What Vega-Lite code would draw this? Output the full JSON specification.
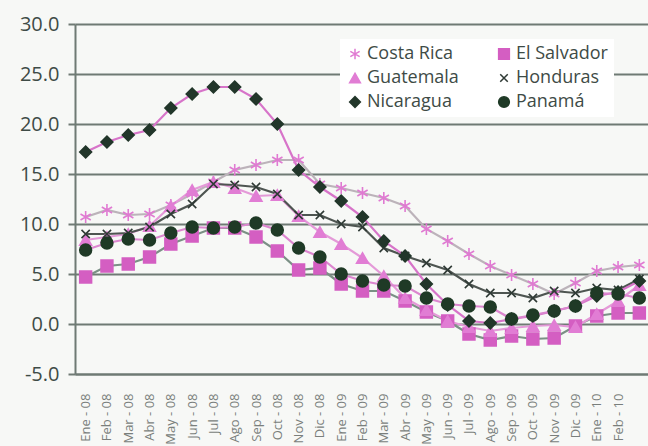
{
  "$schema": "https://vega.github.io/schema/vega-lite/v6.json",
  "width": 575,
  "height": 350,
  "autosize": "none",
  "padding": {"left": 75, "top": 24, "right": 0, "bottom": 72},
  "background": "#f7f8f6",
  "config": {
    "view": {"stroke": null},
    "font": "Open Sans"
  },
  "data": {
    "values": [
      {"mes": "Ene - 08", "pais": "Costa Rica", "v": 10.7},
      {"mes": "Feb - 08", "pais": "Costa Rica", "v": 11.4},
      {"mes": "Mar - 08", "pais": "Costa Rica", "v": 10.9},
      {"mes": "Abr - 08", "pais": "Costa Rica", "v": 11.0},
      {"mes": "May - 08", "pais": "Costa Rica", "v": 11.9},
      {"mes": "Jun - 08", "pais": "Costa Rica", "v": 13.0},
      {"mes": "Jul - 08", "pais": "Costa Rica", "v": 14.2},
      {"mes": "Ago - 08", "pais": "Costa Rica", "v": 15.4},
      {"mes": "Sep - 08", "pais": "Costa Rica", "v": 15.9},
      {"mes": "Oct - 08", "pais": "Costa Rica", "v": 16.4},
      {"mes": "Nov - 08", "pais": "Costa Rica", "v": 16.4},
      {"mes": "Dic - 08", "pais": "Costa Rica", "v": 14.0},
      {"mes": "Ene - 09", "pais": "Costa Rica", "v": 13.6},
      {"mes": "Feb - 09", "pais": "Costa Rica", "v": 13.1},
      {"mes": "Mar - 09", "pais": "Costa Rica", "v": 12.6},
      {"mes": "Abr - 09", "pais": "Costa Rica", "v": 11.8},
      {"mes": "May - 09", "pais": "Costa Rica", "v": 9.5},
      {"mes": "Jun - 09", "pais": "Costa Rica", "v": 8.3},
      {"mes": "Jul - 09", "pais": "Costa Rica", "v": 7.0},
      {"mes": "Ago - 09", "pais": "Costa Rica", "v": 5.8},
      {"mes": "Sep - 09", "pais": "Costa Rica", "v": 4.9},
      {"mes": "Oct - 09", "pais": "Costa Rica", "v": 4.0},
      {"mes": "Nov - 09", "pais": "Costa Rica", "v": 3.0},
      {"mes": "Dic - 09", "pais": "Costa Rica", "v": 4.1},
      {"mes": "Ene - 10", "pais": "Costa Rica", "v": 5.3},
      {"mes": "Feb - 10", "pais": "Costa Rica", "v": 5.7},
      {"mes": "Mar - 10", "pais": "Costa Rica", "v": 5.9},

      {"mes": "Ene - 08", "pais": "El Salvador", "v": 4.7},
      {"mes": "Feb - 08", "pais": "El Salvador", "v": 5.8},
      {"mes": "Mar - 08", "pais": "El Salvador", "v": 6.0},
      {"mes": "Abr - 08", "pais": "El Salvador", "v": 6.7},
      {"mes": "May - 08", "pais": "El Salvador", "v": 8.0},
      {"mes": "Jun - 08", "pais": "El Salvador", "v": 8.8},
      {"mes": "Jul - 08", "pais": "El Salvador", "v": 9.6},
      {"mes": "Ago - 08", "pais": "El Salvador", "v": 9.6},
      {"mes": "Sep - 08", "pais": "El Salvador", "v": 8.7},
      {"mes": "Oct - 08", "pais": "El Salvador", "v": 7.3},
      {"mes": "Nov - 08", "pais": "El Salvador", "v": 5.4},
      {"mes": "Dic - 08", "pais": "El Salvador", "v": 5.6},
      {"mes": "Ene - 09", "pais": "El Salvador", "v": 4.0},
      {"mes": "Feb - 09", "pais": "El Salvador", "v": 3.3},
      {"mes": "Mar - 09", "pais": "El Salvador", "v": 3.3},
      {"mes": "Abr - 09", "pais": "El Salvador", "v": 2.3},
      {"mes": "May - 09", "pais": "El Salvador", "v": 1.2},
      {"mes": "Jun - 09", "pais": "El Salvador", "v": 0.3},
      {"mes": "Jul - 09", "pais": "El Salvador", "v": -1.0},
      {"mes": "Ago - 09", "pais": "El Salvador", "v": -1.6},
      {"mes": "Sep - 09", "pais": "El Salvador", "v": -1.2},
      {"mes": "Oct - 09", "pais": "El Salvador", "v": -1.5},
      {"mes": "Nov - 09", "pais": "El Salvador", "v": -1.4},
      {"mes": "Dic - 09", "pais": "El Salvador", "v": -0.2},
      {"mes": "Ene - 10", "pais": "El Salvador", "v": 0.8},
      {"mes": "Feb - 10", "pais": "El Salvador", "v": 1.1},
      {"mes": "Mar - 10", "pais": "El Salvador", "v": 1.1},

      {"mes": "Ene - 08", "pais": "Guatemala", "v": 8.4},
      {"mes": "Feb - 08", "pais": "Guatemala", "v": 8.7},
      {"mes": "Mar - 08", "pais": "Guatemala", "v": 9.0},
      {"mes": "Abr - 08", "pais": "Guatemala", "v": 9.8},
      {"mes": "May - 08", "pais": "Guatemala", "v": 11.8},
      {"mes": "Jun - 08", "pais": "Guatemala", "v": 13.4},
      {"mes": "Jul - 08", "pais": "Guatemala", "v": 14.2},
      {"mes": "Ago - 08", "pais": "Guatemala", "v": 13.6},
      {"mes": "Sep - 08", "pais": "Guatemala", "v": 12.8},
      {"mes": "Oct - 08", "pais": "Guatemala", "v": 12.9},
      {"mes": "Nov - 08", "pais": "Guatemala", "v": 10.8},
      {"mes": "Dic - 08", "pais": "Guatemala", "v": 9.2},
      {"mes": "Ene - 09", "pais": "Guatemala", "v": 8.0},
      {"mes": "Feb - 09", "pais": "Guatemala", "v": 6.6},
      {"mes": "Mar - 09", "pais": "Guatemala", "v": 4.8},
      {"mes": "Abr - 09", "pais": "Guatemala", "v": 2.6},
      {"mes": "May - 09", "pais": "Guatemala", "v": 1.4},
      {"mes": "Jun - 09", "pais": "Guatemala", "v": 0.3},
      {"mes": "Jul - 09", "pais": "Guatemala", "v": -0.3},
      {"mes": "Ago - 09", "pais": "Guatemala", "v": -0.7},
      {"mes": "Sep - 09", "pais": "Guatemala", "v": -0.4},
      {"mes": "Oct - 09", "pais": "Guatemala", "v": -0.2},
      {"mes": "Nov - 09", "pais": "Guatemala", "v": -0.1},
      {"mes": "Dic - 09", "pais": "Guatemala", "v": -0.3},
      {"mes": "Ene - 10", "pais": "Guatemala", "v": 1.0},
      {"mes": "Feb - 10", "pais": "Guatemala", "v": 2.3},
      {"mes": "Mar - 10", "pais": "Guatemala", "v": 3.9},

      {"mes": "Ene - 08", "pais": "Honduras", "v": 9.0},
      {"mes": "Feb - 08", "pais": "Honduras", "v": 9.0},
      {"mes": "Mar - 08", "pais": "Honduras", "v": 9.1},
      {"mes": "Abr - 08", "pais": "Honduras", "v": 9.7},
      {"mes": "May - 08", "pais": "Honduras", "v": 11.0},
      {"mes": "Jun - 08", "pais": "Honduras", "v": 12.0},
      {"mes": "Jul - 08", "pais": "Honduras", "v": 14.0},
      {"mes": "Ago - 08", "pais": "Honduras", "v": 13.9},
      {"mes": "Sep - 08", "pais": "Honduras", "v": 13.7},
      {"mes": "Oct - 08", "pais": "Honduras", "v": 13.0},
      {"mes": "Nov - 08", "pais": "Honduras", "v": 10.9},
      {"mes": "Dic - 08", "pais": "Honduras", "v": 10.9},
      {"mes": "Ene - 09", "pais": "Honduras", "v": 10.0},
      {"mes": "Feb - 09", "pais": "Honduras", "v": 9.7},
      {"mes": "Mar - 09", "pais": "Honduras", "v": 7.6},
      {"mes": "Abr - 09", "pais": "Honduras", "v": 6.8},
      {"mes": "May - 09", "pais": "Honduras", "v": 6.1},
      {"mes": "Jun - 09", "pais": "Honduras", "v": 5.4},
      {"mes": "Jul - 09", "pais": "Honduras", "v": 4.0},
      {"mes": "Ago - 09", "pais": "Honduras", "v": 3.1},
      {"mes": "Sep - 09", "pais": "Honduras", "v": 3.1},
      {"mes": "Oct - 09", "pais": "Honduras", "v": 2.6},
      {"mes": "Nov - 09", "pais": "Honduras", "v": 3.3},
      {"mes": "Dic - 09", "pais": "Honduras", "v": 3.1},
      {"mes": "Ene - 10", "pais": "Honduras", "v": 3.6},
      {"mes": "Feb - 10", "pais": "Honduras", "v": 3.4},
      {"mes": "Mar - 10", "pais": "Honduras", "v": 4.5},

      {"mes": "Ene - 08", "pais": "Nicaragua", "v": 17.2},
      {"mes": "Feb - 08", "pais": "Nicaragua", "v": 18.2},
      {"mes": "Mar - 08", "pais": "Nicaragua", "v": 18.9},
      {"mes": "Abr - 08", "pais": "Nicaragua", "v": 19.4},
      {"mes": "May - 08", "pais": "Nicaragua", "v": 21.6},
      {"mes": "Jun - 08", "pais": "Nicaragua", "v": 23.0},
      {"mes": "Jul - 08", "pais": "Nicaragua", "v": 23.7},
      {"mes": "Ago - 08", "pais": "Nicaragua", "v": 23.7},
      {"mes": "Sep - 08", "pais": "Nicaragua", "v": 22.5},
      {"mes": "Oct - 08", "pais": "Nicaragua", "v": 20.0},
      {"mes": "Nov - 08", "pais": "Nicaragua", "v": 15.4},
      {"mes": "Dic - 08", "pais": "Nicaragua", "v": 13.7},
      {"mes": "Ene - 09", "pais": "Nicaragua", "v": 12.3},
      {"mes": "Feb - 09", "pais": "Nicaragua", "v": 10.7},
      {"mes": "Mar - 09", "pais": "Nicaragua", "v": 8.3},
      {"mes": "Abr - 09", "pais": "Nicaragua", "v": 6.8},
      {"mes": "May - 09", "pais": "Nicaragua", "v": 4.0},
      {"mes": "Jun - 09", "pais": "Nicaragua", "v": 1.9},
      {"mes": "Jul - 09", "pais": "Nicaragua", "v": 0.3},
      {"mes": "Ago - 09", "pais": "Nicaragua", "v": 0.1},
      {"mes": "Sep - 09", "pais": "Nicaragua", "v": 0.5},
      {"mes": "Oct - 09", "pais": "Nicaragua", "v": 0.8},
      {"mes": "Nov - 09", "pais": "Nicaragua", "v": 1.3},
      {"mes": "Dic - 09", "pais": "Nicaragua", "v": 1.8},
      {"mes": "Ene - 10", "pais": "Nicaragua", "v": 2.8},
      {"mes": "Feb - 10", "pais": "Nicaragua", "v": 3.2},
      {"mes": "Mar - 10", "pais": "Nicaragua", "v": 4.3},

      {"mes": "Ene - 08", "pais": "Panamá", "v": 7.4},
      {"mes": "Feb - 08", "pais": "Panamá", "v": 8.1},
      {"mes": "Mar - 08", "pais": "Panamá", "v": 8.5},
      {"mes": "Abr - 08", "pais": "Panamá", "v": 8.4},
      {"mes": "May - 08", "pais": "Panamá", "v": 9.1},
      {"mes": "Jun - 08", "pais": "Panamá", "v": 9.7},
      {"mes": "Jul - 08", "pais": "Panamá", "v": 9.6},
      {"mes": "Ago - 08", "pais": "Panamá", "v": 9.7},
      {"mes": "Sep - 08", "pais": "Panamá", "v": 10.1},
      {"mes": "Oct - 08", "pais": "Panamá", "v": 9.4},
      {"mes": "Nov - 08", "pais": "Panamá", "v": 7.6},
      {"mes": "Dic - 08", "pais": "Panamá", "v": 6.7},
      {"mes": "Ene - 09", "pais": "Panamá", "v": 5.0},
      {"mes": "Feb - 09", "pais": "Panamá", "v": 4.3},
      {"mes": "Mar - 09", "pais": "Panamá", "v": 3.9},
      {"mes": "Abr - 09", "pais": "Panamá", "v": 3.8},
      {"mes": "May - 09", "pais": "Panamá", "v": 2.6},
      {"mes": "Jun - 09", "pais": "Panamá", "v": 2.0},
      {"mes": "Jul - 09", "pais": "Panamá", "v": 1.8},
      {"mes": "Ago - 09", "pais": "Panamá", "v": 1.7},
      {"mes": "Sep - 09", "pais": "Panamá", "v": 0.5},
      {"mes": "Oct - 09", "pais": "Panamá", "v": 0.9},
      {"mes": "Nov - 09", "pais": "Panamá", "v": 1.3},
      {"mes": "Dic - 09", "pais": "Panamá", "v": 1.8},
      {"mes": "Ene - 10", "pais": "Panamá", "v": 3.1},
      {"mes": "Feb - 10", "pais": "Panamá", "v": 3.0},
      {"mes": "Mar - 10", "pais": "Panamá", "v": 2.6}
    ]
  },
  "encoding": {
    "x": {
      "field": "mes",
      "type": "ordinal",
      "sort": null,
      "scale": {"type": "point", "padding": 0.5},
      "axis": {
        "title": null,
        "labelAngle": -90,
        "labelFontSize": 13,
        "labelColor": "#7a7f7c",
        "labelPadding": 19,
        "ticks": false,
        "domainColor": "#6f7a74",
        "domainWidth": 2,
        "labelExpr": "datum.value == 'Mar - 10' ? '' : datum.label"
      }
    },
    "y": {
      "field": "v",
      "type": "quantitative",
      "scale": {"domain": [-5, 30], "nice": false, "zero": false},
      "axis": {
        "title": null,
        "values": [-5, 0, 5, 10, 15, 20, 25, 30],
        "labelExpr": "replace(format(datum.value, '.1f'), '\u2212', '-')",
        "labelFontSize": 20,
        "labelColor": "#3e4b46",
        "labelPadding": 9,
        "tickSize": 7,
        "tickWidth": 2,
        "tickColor": "#6f7a74",
        "domainColor": "#6f7a74",
        "domainWidth": 2,
        "gridColor": "#6f7a74",
        "gridWidth": 2,
        "gridOpacity": 1
      }
    }
  },
  "layer": [
    {
      "mark": {"type": "line", "strokeWidth": 2.2},
      "encoding": {
        "color": {
          "field": "pais",
          "type": "nominal",
          "scale": {
            "domain": ["Panamá", "Nicaragua", "Honduras", "Guatemala", "El Salvador", "Costa Rica"],
            "range": ["#dc86cf", "#d774c9", "#4e5551", "#e49ad8", "#7b9085", "#bcb3ba"]
          },
          "legend": null
        }
      }
    },
    {
      "mark": {"type": "point", "size": 140, "strokeWidth": 1.6, "opacity": 1},
      "encoding": {
        "shape": {
          "field": "pais",
          "type": "nominal",
          "title": null,
          "scale": {
            "domain": ["Costa Rica", "El Salvador", "Guatemala", "Honduras", "Nicaragua", "Panamá"],
            "range": [
              "M0,-1L0,1M-0.87,-0.5L0.87,0.5M-0.87,0.5L0.87,-0.5",
              "square",
              "triangle-up",
              "M-0.7,-0.7L0.7,0.7M-0.7,0.7L0.7,-0.7",
              "diamond",
              "circle"
            ]
          },
          "legend": {
            "orient": "none",
            "direction": "horizontal",
            "legendX": 265,
            "legendY": 15,
            "columns": 2,
            "columnPadding": 36,
            "rowPadding": 6,
            "labelFontSize": 18,
            "labelColor": "#3e4b46",
            "labelOffset": 3,
            "symbolSize": 115,
            "symbolStrokeWidth": 1.5,
            "fillColor": "white",
            "padding": 6
          }
        },
        "fill": {
          "field": "pais",
          "type": "nominal",
          "title": null,
          "scale": {
            "domain": ["Costa Rica", "El Salvador", "Guatemala", "Honduras", "Nicaragua", "Panamá"],
            "range": ["transparent", "#d45ec2", "#e17dd4", "transparent", "#22362a", "#1f3a26"]
          }
        },
        "stroke": {
          "field": "pais",
          "type": "nominal",
          "title": null,
          "scale": {
            "domain": ["Costa Rica", "El Salvador", "Guatemala", "Honduras", "Nicaragua", "Panamá"],
            "range": ["#e07ad2", "#d45ec2", "#e17dd4", "#2f3a35", "#22362a", "#1f3a26"]
          }
        }
      }
    }
  ]
}
